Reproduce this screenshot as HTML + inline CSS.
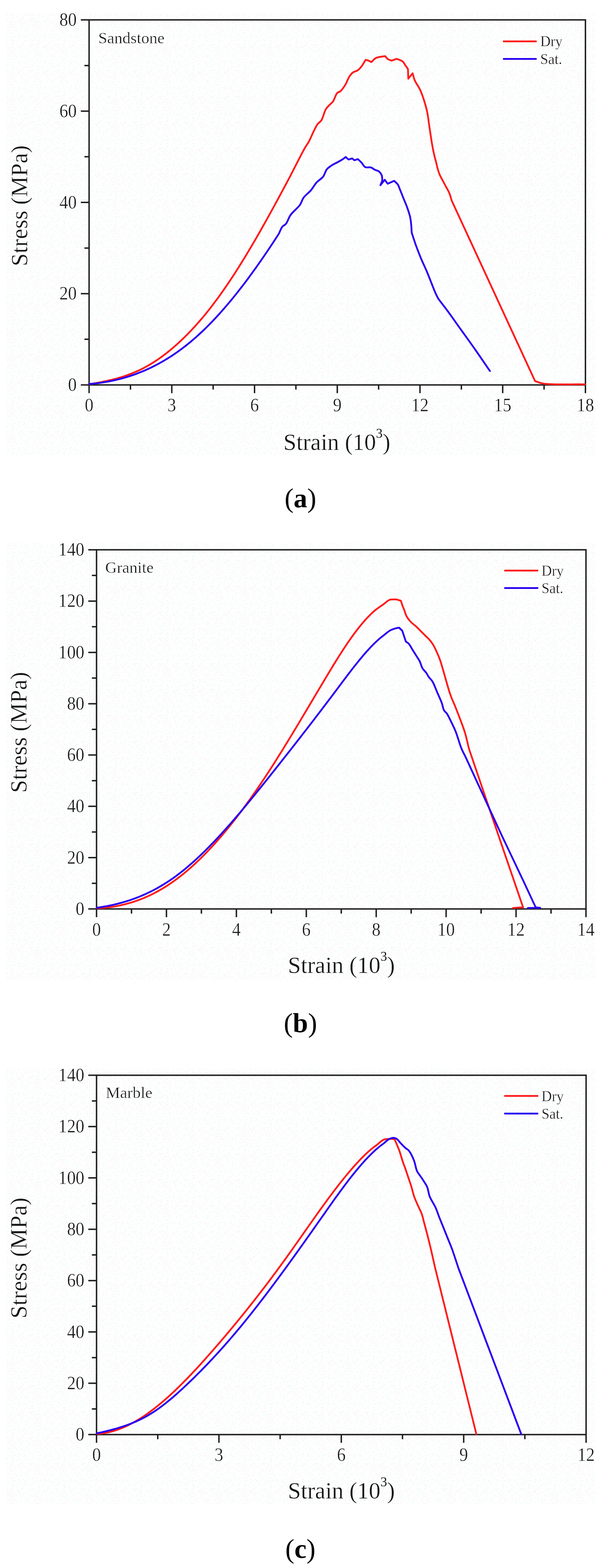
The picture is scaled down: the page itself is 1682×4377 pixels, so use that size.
<!DOCTYPE html>
<html><head><meta charset="utf-8"><title>Stress-strain curves</title>
<style>
html,body{margin:0;padding:0;background:#fff;}
svg{display:block;}
text{font-family:"Liberation Serif", "Times New Roman", serif;fill:#151515;stroke:#fefefe;stroke-width:0.6px;}
text.cap{fill:#000;stroke:none;}
</style></head>
<body>
<svg width="1682" height="4377" viewBox="0 0 1682 4377">
<defs><pattern id="sp" patternUnits="userSpaceOnUse" x="0" y="0" width="72" height="72"><rect width="72" height="72" fill="#fff"/><rect x="0" y="0" width="2" height="2" fill="#ecfcff"/><rect x="5" y="0" width="2" height="2" fill="#ffeff9"/><rect x="11" y="0" width="2" height="2" fill="#ecfff5"/><rect x="13" y="0" width="2" height="2" fill="#fff1f4"/><rect x="19" y="0" width="2" height="2" fill="#fff1f4"/><rect x="21" y="0" width="2" height="2" fill="#ffeff9"/><rect x="32" y="0" width="2" height="2" fill="#fff1f4"/><rect x="35" y="0" width="2" height="2" fill="#ecfff5"/><rect x="37" y="0" width="2" height="2" fill="#ecfcff"/><rect x="40" y="0" width="2" height="2" fill="#ecfcff"/><rect x="53" y="0" width="2" height="2" fill="#ecfff5"/><rect x="61" y="0" width="2" height="2" fill="#efefef"/><rect x="11" y="3" width="2" height="2" fill="#ecfcff"/><rect x="16" y="3" width="2" height="2" fill="#fffdf2"/><rect x="27" y="3" width="2" height="2" fill="#ffeff9"/><rect x="29" y="3" width="2" height="2" fill="#fff1f4"/><rect x="32" y="3" width="2" height="2" fill="#f2f2ff"/><rect x="35" y="3" width="2" height="2" fill="#effffb"/><rect x="43" y="3" width="2" height="2" fill="#f2f2ff"/><rect x="56" y="3" width="2" height="2" fill="#ffeff9"/><rect x="67" y="3" width="2" height="2" fill="#fffdf2"/><rect x="5" y="5" width="2" height="2" fill="#fff1f4"/><rect x="24" y="5" width="2" height="2" fill="#fffdf2"/><rect x="27" y="5" width="2" height="2" fill="#ecfff5"/><rect x="37" y="5" width="2" height="2" fill="#fff1f4"/><rect x="51" y="5" width="2" height="2" fill="#fff1f4"/><rect x="61" y="5" width="2" height="2" fill="#ffeff9"/><rect x="64" y="5" width="2" height="2" fill="#ecfff5"/><rect x="69" y="5" width="2" height="2" fill="#ecfcff"/><rect x="0" y="8" width="2" height="2" fill="#efefef"/><rect x="3" y="8" width="2" height="2" fill="#f2f2ff"/><rect x="8" y="8" width="2" height="2" fill="#ecfcff"/><rect x="21" y="8" width="2" height="2" fill="#fff1f4"/><rect x="35" y="8" width="2" height="2" fill="#ecfff5"/><rect x="40" y="8" width="2" height="2" fill="#efefef"/><rect x="43" y="8" width="2" height="2" fill="#ecfcff"/><rect x="53" y="8" width="2" height="2" fill="#ecfff5"/><rect x="59" y="8" width="2" height="2" fill="#fffdf2"/><rect x="69" y="8" width="2" height="2" fill="#effffb"/><rect x="8" y="11" width="2" height="2" fill="#ffeff9"/><rect x="24" y="11" width="2" height="2" fill="#f2f2ff"/><rect x="27" y="11" width="2" height="2" fill="#efefef"/><rect x="32" y="11" width="2" height="2" fill="#ffeff9"/><rect x="37" y="11" width="2" height="2" fill="#f2f2ff"/><rect x="45" y="11" width="2" height="2" fill="#f2f2ff"/><rect x="59" y="11" width="2" height="2" fill="#ecfff5"/><rect x="67" y="11" width="2" height="2" fill="#effffb"/><rect x="0" y="13" width="2" height="2" fill="#efefef"/><rect x="8" y="13" width="2" height="2" fill="#f2f2ff"/><rect x="24" y="13" width="2" height="2" fill="#ecfff5"/><rect x="40" y="13" width="2" height="2" fill="#f2f2ff"/><rect x="45" y="13" width="2" height="2" fill="#ffeff9"/><rect x="59" y="13" width="2" height="2" fill="#f2f2ff"/><rect x="61" y="13" width="2" height="2" fill="#fff1f4"/><rect x="69" y="13" width="2" height="2" fill="#ecfcff"/><rect x="0" y="16" width="2" height="2" fill="#ecfcff"/><rect x="3" y="16" width="2" height="2" fill="#effffb"/><rect x="8" y="16" width="2" height="2" fill="#effffb"/><rect x="19" y="16" width="2" height="2" fill="#efefef"/><rect x="27" y="16" width="2" height="2" fill="#ecfcff"/><rect x="37" y="16" width="2" height="2" fill="#fffdf2"/><rect x="40" y="16" width="2" height="2" fill="#ecfff5"/><rect x="45" y="16" width="2" height="2" fill="#fff1f4"/><rect x="51" y="16" width="2" height="2" fill="#f2f2ff"/><rect x="69" y="16" width="2" height="2" fill="#ecfcff"/><rect x="3" y="19" width="2" height="2" fill="#effffb"/><rect x="13" y="19" width="2" height="2" fill="#ecfcff"/><rect x="24" y="19" width="2" height="2" fill="#effffb"/><rect x="29" y="19" width="2" height="2" fill="#efefef"/><rect x="32" y="19" width="2" height="2" fill="#fffdf2"/><rect x="35" y="19" width="2" height="2" fill="#ffeff9"/><rect x="8" y="21" width="2" height="2" fill="#ecfff5"/><rect x="13" y="21" width="2" height="2" fill="#ffeff9"/><rect x="19" y="21" width="2" height="2" fill="#ecfff5"/><rect x="24" y="21" width="2" height="2" fill="#fffdf2"/><rect x="32" y="21" width="2" height="2" fill="#f2f2ff"/><rect x="35" y="21" width="2" height="2" fill="#ecfcff"/><rect x="40" y="21" width="2" height="2" fill="#ffeff9"/><rect x="53" y="21" width="2" height="2" fill="#fff1f4"/><rect x="67" y="21" width="2" height="2" fill="#f2f2ff"/><rect x="69" y="21" width="2" height="2" fill="#effffb"/><rect x="3" y="24" width="2" height="2" fill="#f2f2ff"/><rect x="8" y="24" width="2" height="2" fill="#ffeff9"/><rect x="11" y="24" width="2" height="2" fill="#ecfff5"/><rect x="16" y="24" width="2" height="2" fill="#fffdf2"/><rect x="19" y="24" width="2" height="2" fill="#ecfcff"/><rect x="21" y="24" width="2" height="2" fill="#ecfcff"/><rect x="45" y="24" width="2" height="2" fill="#fffdf2"/><rect x="48" y="24" width="2" height="2" fill="#ecfcff"/><rect x="53" y="24" width="2" height="2" fill="#efefef"/><rect x="61" y="24" width="2" height="2" fill="#ecfff5"/><rect x="64" y="24" width="2" height="2" fill="#ffeff9"/><rect x="5" y="27" width="2" height="2" fill="#ecfcff"/><rect x="8" y="27" width="2" height="2" fill="#ecfff5"/><rect x="16" y="27" width="2" height="2" fill="#ecfcff"/><rect x="19" y="27" width="2" height="2" fill="#fffdf2"/><rect x="27" y="27" width="2" height="2" fill="#effffb"/><rect x="32" y="27" width="2" height="2" fill="#f2f2ff"/><rect x="40" y="27" width="2" height="2" fill="#efefef"/><rect x="48" y="27" width="2" height="2" fill="#effffb"/><rect x="51" y="27" width="2" height="2" fill="#effffb"/><rect x="53" y="27" width="2" height="2" fill="#fff1f4"/><rect x="67" y="27" width="2" height="2" fill="#ecfff5"/><rect x="16" y="29" width="2" height="2" fill="#ecfcff"/><rect x="19" y="29" width="2" height="2" fill="#fffdf2"/><rect x="24" y="29" width="2" height="2" fill="#fff1f4"/><rect x="32" y="29" width="2" height="2" fill="#ecfff5"/><rect x="37" y="29" width="2" height="2" fill="#ecfcff"/><rect x="40" y="29" width="2" height="2" fill="#effffb"/><rect x="43" y="29" width="2" height="2" fill="#f2f2ff"/><rect x="53" y="29" width="2" height="2" fill="#fffdf2"/><rect x="56" y="29" width="2" height="2" fill="#ecfcff"/><rect x="59" y="29" width="2" height="2" fill="#fff1f4"/><rect x="61" y="29" width="2" height="2" fill="#fffdf2"/><rect x="67" y="29" width="2" height="2" fill="#efefef"/><rect x="69" y="29" width="2" height="2" fill="#ffeff9"/><rect x="0" y="32" width="2" height="2" fill="#efefef"/><rect x="5" y="32" width="2" height="2" fill="#ecfff5"/><rect x="8" y="32" width="2" height="2" fill="#ecfcff"/><rect x="21" y="32" width="2" height="2" fill="#effffb"/><rect x="24" y="32" width="2" height="2" fill="#ecfcff"/><rect x="27" y="32" width="2" height="2" fill="#fff1f4"/><rect x="35" y="32" width="2" height="2" fill="#efefef"/><rect x="51" y="32" width="2" height="2" fill="#efefef"/><rect x="53" y="32" width="2" height="2" fill="#f2f2ff"/><rect x="64" y="32" width="2" height="2" fill="#efefef"/><rect x="3" y="35" width="2" height="2" fill="#ffeff9"/><rect x="16" y="35" width="2" height="2" fill="#effffb"/><rect x="19" y="35" width="2" height="2" fill="#ffeff9"/><rect x="24" y="35" width="2" height="2" fill="#ecfff5"/><rect x="27" y="35" width="2" height="2" fill="#effffb"/><rect x="48" y="35" width="2" height="2" fill="#ecfcff"/><rect x="61" y="35" width="2" height="2" fill="#effffb"/><rect x="64" y="35" width="2" height="2" fill="#fffdf2"/><rect x="69" y="35" width="2" height="2" fill="#ecfff5"/><rect x="3" y="37" width="2" height="2" fill="#fffdf2"/><rect x="11" y="37" width="2" height="2" fill="#ecfff5"/><rect x="13" y="37" width="2" height="2" fill="#ffeff9"/><rect x="19" y="37" width="2" height="2" fill="#effffb"/><rect x="21" y="37" width="2" height="2" fill="#effffb"/><rect x="35" y="37" width="2" height="2" fill="#ffeff9"/><rect x="37" y="37" width="2" height="2" fill="#fffdf2"/><rect x="43" y="37" width="2" height="2" fill="#fffdf2"/><rect x="51" y="37" width="2" height="2" fill="#effffb"/><rect x="56" y="37" width="2" height="2" fill="#effffb"/><rect x="0" y="40" width="2" height="2" fill="#f2f2ff"/><rect x="3" y="40" width="2" height="2" fill="#f2f2ff"/><rect x="8" y="40" width="2" height="2" fill="#ecfff5"/><rect x="16" y="40" width="2" height="2" fill="#f2f2ff"/><rect x="19" y="40" width="2" height="2" fill="#fff1f4"/><rect x="32" y="40" width="2" height="2" fill="#efefef"/><rect x="35" y="40" width="2" height="2" fill="#efefef"/><rect x="40" y="40" width="2" height="2" fill="#ecfcff"/><rect x="43" y="40" width="2" height="2" fill="#fffdf2"/><rect x="48" y="40" width="2" height="2" fill="#f2f2ff"/><rect x="56" y="40" width="2" height="2" fill="#fff1f4"/><rect x="69" y="40" width="2" height="2" fill="#fff1f4"/><rect x="8" y="43" width="2" height="2" fill="#efefef"/><rect x="16" y="43" width="2" height="2" fill="#fff1f4"/><rect x="21" y="43" width="2" height="2" fill="#fffdf2"/><rect x="27" y="43" width="2" height="2" fill="#effffb"/><rect x="35" y="43" width="2" height="2" fill="#ecfcff"/><rect x="37" y="43" width="2" height="2" fill="#effffb"/><rect x="56" y="43" width="2" height="2" fill="#ecfcff"/><rect x="61" y="43" width="2" height="2" fill="#ecfff5"/><rect x="69" y="43" width="2" height="2" fill="#efefef"/><rect x="16" y="45" width="2" height="2" fill="#fffdf2"/><rect x="35" y="45" width="2" height="2" fill="#ecfff5"/><rect x="45" y="45" width="2" height="2" fill="#efefef"/><rect x="48" y="45" width="2" height="2" fill="#fff1f4"/><rect x="61" y="45" width="2" height="2" fill="#fff1f4"/><rect x="8" y="48" width="2" height="2" fill="#ecfcff"/><rect x="32" y="48" width="2" height="2" fill="#ecfcff"/><rect x="35" y="48" width="2" height="2" fill="#efefef"/><rect x="40" y="48" width="2" height="2" fill="#ecfcff"/><rect x="53" y="48" width="2" height="2" fill="#fffdf2"/><rect x="64" y="48" width="2" height="2" fill="#efefef"/><rect x="67" y="48" width="2" height="2" fill="#fffdf2"/><rect x="0" y="51" width="2" height="2" fill="#f2f2ff"/><rect x="11" y="51" width="2" height="2" fill="#ecfff5"/><rect x="13" y="51" width="2" height="2" fill="#fff1f4"/><rect x="19" y="51" width="2" height="2" fill="#efefef"/><rect x="21" y="51" width="2" height="2" fill="#fff1f4"/><rect x="24" y="51" width="2" height="2" fill="#ecfff5"/><rect x="32" y="51" width="2" height="2" fill="#efefef"/><rect x="45" y="51" width="2" height="2" fill="#fffdf2"/><rect x="53" y="51" width="2" height="2" fill="#ecfff5"/><rect x="56" y="51" width="2" height="2" fill="#ecfff5"/><rect x="59" y="51" width="2" height="2" fill="#ecfff5"/><rect x="61" y="51" width="2" height="2" fill="#fffdf2"/><rect x="64" y="51" width="2" height="2" fill="#effffb"/><rect x="5" y="53" width="2" height="2" fill="#ecfcff"/><rect x="11" y="53" width="2" height="2" fill="#efefef"/><rect x="16" y="53" width="2" height="2" fill="#efefef"/><rect x="21" y="53" width="2" height="2" fill="#effffb"/><rect x="37" y="53" width="2" height="2" fill="#ecfcff"/><rect x="48" y="53" width="2" height="2" fill="#fff1f4"/><rect x="59" y="53" width="2" height="2" fill="#ffeff9"/><rect x="61" y="53" width="2" height="2" fill="#f2f2ff"/><rect x="8" y="56" width="2" height="2" fill="#fff1f4"/><rect x="11" y="56" width="2" height="2" fill="#effffb"/><rect x="13" y="56" width="2" height="2" fill="#effffb"/><rect x="16" y="56" width="2" height="2" fill="#f2f2ff"/><rect x="27" y="56" width="2" height="2" fill="#fff1f4"/><rect x="29" y="56" width="2" height="2" fill="#efefef"/><rect x="37" y="56" width="2" height="2" fill="#ecfff5"/><rect x="48" y="56" width="2" height="2" fill="#efefef"/><rect x="51" y="56" width="2" height="2" fill="#f2f2ff"/><rect x="56" y="56" width="2" height="2" fill="#ffeff9"/><rect x="59" y="56" width="2" height="2" fill="#ecfff5"/><rect x="61" y="56" width="2" height="2" fill="#effffb"/><rect x="69" y="56" width="2" height="2" fill="#fff1f4"/><rect x="3" y="59" width="2" height="2" fill="#effffb"/><rect x="5" y="59" width="2" height="2" fill="#fffdf2"/><rect x="16" y="59" width="2" height="2" fill="#f2f2ff"/><rect x="32" y="59" width="2" height="2" fill="#fff1f4"/><rect x="35" y="59" width="2" height="2" fill="#efefef"/><rect x="43" y="59" width="2" height="2" fill="#fff1f4"/><rect x="51" y="59" width="2" height="2" fill="#ffeff9"/><rect x="53" y="59" width="2" height="2" fill="#fff1f4"/><rect x="64" y="59" width="2" height="2" fill="#fff1f4"/><rect x="0" y="61" width="2" height="2" fill="#ffeff9"/><rect x="5" y="61" width="2" height="2" fill="#fffdf2"/><rect x="16" y="61" width="2" height="2" fill="#ecfff5"/><rect x="19" y="61" width="2" height="2" fill="#ecfff5"/><rect x="21" y="61" width="2" height="2" fill="#ecfff5"/><rect x="24" y="61" width="2" height="2" fill="#fff1f4"/><rect x="27" y="61" width="2" height="2" fill="#ecfff5"/><rect x="32" y="61" width="2" height="2" fill="#ffeff9"/><rect x="40" y="61" width="2" height="2" fill="#effffb"/><rect x="45" y="61" width="2" height="2" fill="#effffb"/><rect x="51" y="61" width="2" height="2" fill="#fffdf2"/><rect x="53" y="61" width="2" height="2" fill="#efefef"/><rect x="56" y="61" width="2" height="2" fill="#ecfff5"/><rect x="69" y="61" width="2" height="2" fill="#efefef"/><rect x="0" y="64" width="2" height="2" fill="#f2f2ff"/><rect x="3" y="64" width="2" height="2" fill="#f2f2ff"/><rect x="8" y="64" width="2" height="2" fill="#fffdf2"/><rect x="11" y="64" width="2" height="2" fill="#ecfff5"/><rect x="27" y="64" width="2" height="2" fill="#efefef"/><rect x="35" y="64" width="2" height="2" fill="#ffeff9"/><rect x="43" y="64" width="2" height="2" fill="#ffeff9"/><rect x="51" y="64" width="2" height="2" fill="#fffdf2"/><rect x="59" y="64" width="2" height="2" fill="#f2f2ff"/><rect x="64" y="64" width="2" height="2" fill="#f2f2ff"/><rect x="8" y="67" width="2" height="2" fill="#ffeff9"/><rect x="21" y="67" width="2" height="2" fill="#efefef"/><rect x="24" y="67" width="2" height="2" fill="#ecfcff"/><rect x="32" y="67" width="2" height="2" fill="#f2f2ff"/><rect x="37" y="67" width="2" height="2" fill="#f2f2ff"/><rect x="40" y="67" width="2" height="2" fill="#ecfcff"/><rect x="45" y="67" width="2" height="2" fill="#effffb"/><rect x="56" y="67" width="2" height="2" fill="#efefef"/><rect x="64" y="67" width="2" height="2" fill="#fff1f4"/><rect x="67" y="67" width="2" height="2" fill="#ecfcff"/><rect x="8" y="69" width="2" height="2" fill="#effffb"/><rect x="11" y="69" width="2" height="2" fill="#ecfff5"/><rect x="13" y="69" width="2" height="2" fill="#ecfcff"/><rect x="19" y="69" width="2" height="2" fill="#ecfff5"/><rect x="27" y="69" width="2" height="2" fill="#efefef"/><rect x="32" y="69" width="2" height="2" fill="#fff1f4"/><rect x="43" y="69" width="2" height="2" fill="#fff1f4"/><rect x="45" y="69" width="2" height="2" fill="#ecfff5"/><rect x="59" y="69" width="2" height="2" fill="#effffb"/></pattern></defs>
<rect x="17" y="36" width="1643" height="1236" fill="url(#sp)"/>
<rect x="248.5" y="55.5" width="1384.5" height="1019.0" fill="none" stroke="#1e1e1e" stroke-width="4"/>
<text transform="translate(248.5,1148.0) scale(0.93,1)" text-anchor="middle" style="font-size:52px">0</text>
<text transform="translate(479.2,1148.0) scale(0.93,1)" text-anchor="middle" style="font-size:52px">3</text>
<text transform="translate(710.0,1148.0) scale(0.93,1)" text-anchor="middle" style="font-size:52px">6</text>
<text transform="translate(940.8,1148.0) scale(0.93,1)" text-anchor="middle" style="font-size:52px">9</text>
<text transform="translate(1171.5,1148.0) scale(0.93,1)" text-anchor="middle" style="font-size:52px">12</text>
<text transform="translate(1402.2,1148.0) scale(0.93,1)" text-anchor="middle" style="font-size:52px">15</text>
<text transform="translate(1633.0,1148.0) scale(0.93,1)" text-anchor="middle" style="font-size:52px">18</text>
<text transform="translate(214.0,1091.0) scale(0.93,1)" text-anchor="end" style="font-size:52px">0</text>
<text transform="translate(214.0,836.2) scale(0.93,1)" text-anchor="end" style="font-size:52px">20</text>
<text transform="translate(214.0,581.5) scale(0.93,1)" text-anchor="end" style="font-size:52px">40</text>
<text transform="translate(214.0,326.8) scale(0.93,1)" text-anchor="end" style="font-size:52px">60</text>
<text transform="translate(214.0,72.0) scale(0.93,1)" text-anchor="end" style="font-size:52px">80</text>
<path d="M248.5,1074.5v23M363.9,1074.5v13M479.2,1074.5v23M594.6,1074.5v13M710.0,1074.5v23M825.4,1074.5v13M940.8,1074.5v23M1056.1,1074.5v13M1171.5,1074.5v23M1286.9,1074.5v13M1402.2,1074.5v23M1517.6,1074.5v13M1633.0,1074.5v23M248.5,1074.5h-23M248.5,947.1h-13M248.5,819.8h-23M248.5,692.4h-13M248.5,565.0h-23M248.5,437.6h-13M248.5,310.2h-23M248.5,182.9h-13M248.5,55.5h-23" stroke="#1e1e1e" stroke-width="4" fill="none"/>
<path d="M248.5,1072.5C251.2,1072.0 253.8,1071.6 256.5,1071.2C259.2,1070.7 261.8,1070.3 264.5,1069.8C267.2,1069.3 269.8,1068.9 272.5,1068.4C275.2,1067.9 277.8,1067.4 280.5,1066.9C283.2,1066.4 285.8,1065.8 288.5,1065.3C291.2,1064.8 293.8,1064.2 296.5,1063.6C299.2,1063.0 301.8,1062.4 304.5,1061.8C307.2,1061.2 309.8,1060.6 312.5,1059.9C315.2,1059.3 317.8,1058.6 320.5,1057.9C323.2,1057.2 325.8,1056.4 328.5,1055.7C331.2,1054.9 333.8,1054.1 336.5,1053.3C339.2,1052.5 341.8,1051.7 344.5,1050.8C347.2,1050.0 349.8,1049.1 352.5,1048.1C355.2,1047.2 357.8,1046.2 360.5,1045.2C363.2,1044.2 365.8,1043.2 368.5,1042.1C371.2,1041.1 373.8,1040.0 376.5,1038.8C379.2,1037.7 381.8,1036.5 384.5,1035.3C387.2,1034.0 389.8,1032.8 392.5,1031.5C395.2,1030.2 397.8,1028.8 400.5,1027.4C403.2,1026.1 405.8,1024.6 408.5,1023.1C411.2,1021.7 413.8,1020.1 416.5,1018.6C419.2,1017.0 421.8,1015.4 424.5,1013.7C427.2,1012.1 429.8,1010.4 432.5,1008.6C435.2,1006.9 437.8,1005.1 440.5,1003.3C443.2,1001.4 445.8,999.6 448.5,997.7C451.2,995.7 453.8,993.8 456.5,991.8C459.2,989.8 461.8,987.7 464.5,985.6C467.2,983.5 469.8,981.4 472.5,979.2C475.2,977.0 477.8,974.8 480.5,972.6C483.2,970.3 485.8,968.0 488.5,965.7C491.2,963.3 493.8,960.9 496.5,958.5C499.2,956.0 501.8,953.6 504.5,951.1C507.2,948.5 509.8,946.0 512.5,943.4C515.2,940.8 517.8,938.1 520.5,935.5C523.2,932.8 525.8,930.0 528.5,927.3C531.2,924.5 533.8,921.7 536.5,918.9C539.2,916.0 541.8,913.1 544.5,910.2C547.2,907.2 549.8,904.2 552.5,901.2C555.2,898.2 557.8,895.1 560.5,892.0C563.2,888.8 565.8,885.7 568.5,882.5C571.2,879.3 573.8,876.0 576.5,872.7C579.2,869.4 581.8,866.1 584.5,862.7C587.2,859.3 589.8,855.8 592.5,852.4C595.2,848.9 597.8,845.3 600.5,841.8C603.2,838.2 605.8,834.6 608.5,830.9C611.2,827.2 613.8,823.5 616.5,819.8C619.2,816.0 621.8,812.2 624.5,808.4C627.2,804.6 629.8,800.7 632.5,796.8C635.2,792.8 637.8,788.9 640.5,784.9C643.2,780.9 645.8,776.9 648.5,772.8C651.2,768.7 653.8,764.6 656.5,760.5C659.2,756.3 661.8,752.1 664.5,747.9C667.2,743.7 669.8,739.4 672.5,735.1C675.2,730.8 677.8,726.5 680.5,722.2C683.2,717.8 685.8,713.4 688.5,709.0C691.2,704.6 693.8,700.1 696.5,695.6C699.2,691.1 701.8,686.6 704.5,682.1C707.2,677.5 709.8,673.0 712.5,668.4C715.2,663.8 717.8,659.1 720.5,654.5C723.2,649.8 725.8,645.1 728.5,640.4C731.2,635.7 733.8,631.0 736.5,626.3C739.2,621.5 741.8,616.7 744.5,611.9C747.2,607.1 749.8,602.3 752.5,597.5C755.2,592.7 757.8,587.8 760.5,582.9C763.2,578.1 765.8,573.2 768.5,568.3C771.2,563.4 773.8,558.4 776.5,553.5C779.2,548.6 781.8,543.6 784.5,538.6C787.2,533.7 789.8,528.7 792.5,523.7C795.2,518.7 797.8,513.7 800.5,508.7C803.2,503.7 806.8,496.9 808.5,493.7C809.4,492.0 809.4,492.0 810.4,490.1C815.2,480.9 841.3,429.0 850.8,412.3C855.5,404.1 858.4,401.1 862.0,394.5C866.2,386.7 869.9,376.6 874.1,368.3C878.0,360.5 882.0,351.8 886.3,346.1C889.5,341.8 893.3,340.7 896.4,336.0C901.1,328.9 904.0,313.3 908.5,305.7C911.6,300.4 915.1,297.3 918.6,293.5C921.9,289.9 925.5,287.8 928.7,283.4C933.1,277.3 936.4,263.6 940.8,259.2C943.4,256.6 946.1,257.5 948.9,255.2C953.4,251.6 958.8,243.7 963.0,237.0C967.6,229.7 970.9,219.0 975.2,212.7C978.4,208.0 981.4,204.3 985.3,201.6C988.9,199.1 993.8,199.0 997.4,196.6C1001.2,194.1 1004.2,190.6 1007.5,186.5C1011.7,181.3 1015.6,173.7 1019.6,167.3C1021.6,167.6 1023.5,167.6 1025.7,168.3C1028.7,169.3 1032.4,171.6 1035.8,173.3C1039.8,169.6 1043.8,164.5 1047.9,162.2C1051.2,160.3 1054.3,160.1 1058.1,159.2C1062.8,158.1 1068.8,157.5 1074.2,156.6C1076.9,159.5 1079.2,163.2 1082.3,165.3C1085.3,167.3 1089.0,168.0 1092.4,169.3L1106.6,164.2C1112.0,166.6 1118.6,168.0 1122.7,171.3C1126.4,174.2 1128.2,178.8 1130.8,182.4C1133.3,185.8 1135.5,189.1 1137.9,192.5L1138.9,219.8L1151.0,204.6C1153.0,211.3 1154.1,217.9 1157.1,224.8C1160.5,232.7 1167.2,240.7 1171.2,249.1C1175.2,257.5 1178.1,265.8 1181.3,275.4C1184.9,286.4 1188.7,299.2 1191.4,311.7C1194.2,324.7 1195.3,337.8 1197.5,352.1C1200.0,368.4 1203.0,390.1 1205.5,404.2C1207.2,413.8 1208.5,420.4 1210.3,428.5C1212.1,436.6 1214.5,445.1 1216.4,452.7C1218.1,459.5 1219.5,466.1 1221.2,472.1C1222.7,477.3 1224.1,481.9 1226.1,486.7C1228.1,491.6 1230.7,496.1 1233.3,501.2C1236.3,506.9 1239.8,513.3 1243.0,519.4C1246.2,525.5 1249.9,531.1 1252.7,537.6C1255.7,544.6 1257.6,552.5 1260.0,560.0L1492.5,1063.8C1500.6,1066.2 1505.5,1069.2 1516.8,1070.9C1540.8,1074.6 1593.6,1072.3 1632.0,1073.0" fill="none" stroke="#ff1c1c" stroke-width="5" stroke-linejoin="round" stroke-linecap="round"/>
<path d="M248.5,1072.0C251.2,1071.7 253.8,1071.5 256.5,1071.3C259.2,1071.0 261.8,1070.8 264.5,1070.5C267.2,1070.2 269.8,1069.9 272.5,1069.5C275.2,1069.2 277.8,1068.9 280.5,1068.5C283.2,1068.1 285.8,1067.7 288.5,1067.3C291.2,1066.9 293.8,1066.5 296.5,1066.0C299.2,1065.5 301.8,1065.0 304.5,1064.5C307.2,1064.0 309.8,1063.5 312.5,1063.0C315.2,1062.4 317.8,1061.8 320.5,1061.2C323.2,1060.6 325.8,1060.0 328.5,1059.4C331.2,1058.7 333.8,1058.0 336.5,1057.3C339.2,1056.6 341.8,1055.9 344.5,1055.2C347.2,1054.4 349.8,1053.6 352.5,1052.8C355.2,1052.0 357.8,1051.2 360.5,1050.4C363.2,1049.5 365.8,1048.6 368.5,1047.7C371.2,1046.8 373.8,1045.9 376.5,1044.9C379.2,1043.9 381.8,1043.0 384.5,1041.9C387.2,1040.9 389.8,1039.9 392.5,1038.8C395.2,1037.7 397.8,1036.6 400.5,1035.5C403.2,1034.4 405.8,1033.2 408.5,1032.0C411.2,1030.8 413.8,1029.6 416.5,1028.3C419.2,1027.1 421.8,1025.8 424.5,1024.5C427.2,1023.2 429.8,1021.9 432.5,1020.5C435.2,1019.1 437.8,1017.7 440.5,1016.3C443.2,1014.8 445.8,1013.4 448.5,1011.9C451.2,1010.4 453.8,1008.8 456.5,1007.3C459.2,1005.7 461.8,1004.1 464.5,1002.5C467.2,1000.9 469.8,999.2 472.5,997.5C475.2,995.8 477.8,994.1 480.5,992.3C483.2,990.5 485.8,988.7 488.5,986.9C491.2,985.1 493.8,983.2 496.5,981.3C499.2,979.4 501.8,977.5 504.5,975.5C507.2,973.5 509.8,971.5 512.5,969.5C515.2,967.4 517.8,965.4 520.5,963.2C523.2,961.1 525.8,959.0 528.5,956.8C531.2,954.6 533.8,952.4 536.5,950.1C539.2,947.8 541.8,945.5 544.5,943.2C547.2,940.8 549.8,938.5 552.5,936.0C555.2,933.6 557.8,931.2 560.5,928.7C563.2,926.2 565.8,923.6 568.5,921.1C571.2,918.5 573.8,915.9 576.5,913.3C579.2,910.6 581.8,907.9 584.5,905.2C587.2,902.5 589.8,899.7 592.5,897.0C595.2,894.2 597.8,891.3 600.5,888.5C603.2,885.6 605.8,882.7 608.5,879.8C611.2,876.9 613.8,873.9 616.5,870.9C619.2,867.9 621.8,864.9 624.5,861.8C627.2,858.8 629.8,855.7 632.5,852.5C635.2,849.4 637.8,846.2 640.5,843.0C643.2,839.8 645.8,836.6 648.5,833.3C651.2,830.1 653.8,826.8 656.5,823.5C659.2,820.1 661.8,816.8 664.5,813.4C667.2,810.0 669.8,806.6 672.5,803.1C675.2,799.7 677.8,796.2 680.5,792.7C683.2,789.2 685.8,785.6 688.5,782.1C691.2,778.5 693.8,774.9 696.5,771.3C699.2,767.7 701.8,764.0 704.5,760.3C707.2,756.6 709.8,752.9 712.5,749.2C715.2,745.5 717.8,741.7 720.5,737.9C723.2,734.1 725.8,730.3 728.5,726.4C731.2,722.6 733.8,718.7 736.5,714.8C739.2,710.9 741.8,707.0 744.5,703.1C747.2,699.1 749.8,695.1 752.5,691.1C755.2,687.1 757.8,683.1 760.5,679.1C763.2,675.0 765.8,670.9 768.5,666.8C771.2,662.7 775.1,656.7 776.5,654.5C777.0,653.6 777.1,653.7 777.6,652.8C779.3,649.8 783.7,637.6 787.7,632.7C790.7,629.0 794.6,628.5 797.8,624.6C802.4,619.0 804.7,608.3 810.4,600.2C817.1,590.7 830.4,581.0 836.7,571.9C841.5,565.0 842.2,558.1 846.8,551.7C852.0,544.5 860.9,538.6 867.0,531.5C873.0,524.5 877.2,515.8 883.1,509.3C888.7,503.1 896.5,499.3 901.3,493.1C905.9,487.1 907.2,478.2 911.4,472.9C914.9,468.5 918.9,466.0 923.5,462.8C928.8,459.2 936.0,455.9 941.7,452.7C946.7,449.9 951.9,447.3 955.9,444.6C959.1,442.5 961.4,440.3 964.1,438.2L972.2,445.3L982.3,442.2L988.4,447.3L998.5,444.2C1001.9,447.6 1005.3,450.7 1008.6,454.3C1012.1,458.1 1014.4,464.3 1018.7,466.5C1023.1,468.7 1030.2,466.1 1034.8,467.5C1038.7,468.7 1041.3,471.7 1044.9,473.5C1048.7,475.4 1053.8,475.9 1057.1,478.6C1060.6,481.5 1063.7,486.3 1065.2,490.7C1066.7,495.0 1065.9,500.1 1066.2,504.8L1061.1,517.0L1073.2,501.8L1081.3,512.9L1099.5,504.8C1102.9,508.2 1106.9,511.0 1109.6,514.9C1112.4,519.0 1113.4,523.5 1115.7,529.1C1119.1,537.3 1124.1,550.2 1127.8,559.4C1130.9,567.0 1133.6,572.9 1136.2,580.4C1139.1,588.6 1142.3,598.0 1144.2,606.7C1146.0,614.9 1146.6,623.4 1147.3,630.9C1147.9,637.4 1148.0,643.0 1148.3,649.1C1152.3,661.2 1156.1,673.4 1160.4,685.5C1164.8,697.7 1169.5,709.8 1174.5,721.8C1179.6,734.0 1185.7,746.4 1190.7,758.2C1195.3,769.1 1199.3,779.7 1203.4,790.0C1207.3,799.8 1211.4,810.8 1215.0,818.8C1217.7,824.8 1220.1,829.0 1222.6,834.1C1230.9,845.0 1238.5,854.5 1247.6,866.8C1259.1,882.4 1273.2,902.6 1286.0,920.5C1298.8,938.4 1311.4,955.7 1324.4,974.3C1338.2,994.0 1352.5,1015.2 1366.6,1035.7" fill="none" stroke="#2a00f2" stroke-width="5" stroke-linejoin="round" stroke-linecap="round"/>
<text x="274" y="120.5" style="font-size:45px">Sandstone</text>
<path d="M1403,115.5H1497" stroke="#ff1c1c" stroke-width="5"/>
<path d="M1403,164.5H1497" stroke="#2a00f2" stroke-width="5"/>
<text transform="translate(1507,129) scale(0.95,1)" style="font-size:42px">Dry</text>
<text transform="translate(1507,179) scale(0.95,1)" style="font-size:42px">Sat.</text>
<text transform="translate(76,574.4) rotate(-90)" text-anchor="middle" style="font-size:65px">Stress (MPa)</text>
<text x="790.5" y="1256.3" style="font-size:65px">Strain (10<tspan style="font-size:37px;stroke:none" dy="-34">3</tspan><tspan dy="34">)</tspan></text>
<text class="cap" x="838" y="1416" text-anchor="middle" style="font-size:76px">(<tspan font-weight="bold">a</tspan>)</text>
<rect x="17" y="1516" width="1643" height="1218" fill="url(#sp)"/>
<rect x="269.3" y="1534.7" width="1365.2" height="1002.6000000000001" fill="none" stroke="#1e1e1e" stroke-width="4"/>
<text transform="translate(269.3,2611.5) scale(0.93,1)" text-anchor="middle" style="font-size:52px">0</text>
<text transform="translate(464.3,2611.5) scale(0.93,1)" text-anchor="middle" style="font-size:52px">2</text>
<text transform="translate(659.4,2611.5) scale(0.93,1)" text-anchor="middle" style="font-size:52px">4</text>
<text transform="translate(854.4,2611.5) scale(0.93,1)" text-anchor="middle" style="font-size:52px">6</text>
<text transform="translate(1049.4,2611.5) scale(0.93,1)" text-anchor="middle" style="font-size:52px">8</text>
<text transform="translate(1244.4,2611.5) scale(0.93,1)" text-anchor="middle" style="font-size:52px">10</text>
<text transform="translate(1439.5,2611.5) scale(0.93,1)" text-anchor="middle" style="font-size:52px">12</text>
<text transform="translate(1634.5,2611.5) scale(0.93,1)" text-anchor="middle" style="font-size:52px">14</text>
<text transform="translate(235.3,2553.8) scale(0.93,1)" text-anchor="end" style="font-size:52px">0</text>
<text transform="translate(235.3,2410.6) scale(0.93,1)" text-anchor="end" style="font-size:52px">20</text>
<text transform="translate(235.3,2267.3) scale(0.93,1)" text-anchor="end" style="font-size:52px">40</text>
<text transform="translate(235.3,2124.1) scale(0.93,1)" text-anchor="end" style="font-size:52px">60</text>
<text transform="translate(235.3,1980.9) scale(0.93,1)" text-anchor="end" style="font-size:52px">80</text>
<text transform="translate(235.3,1837.7) scale(0.93,1)" text-anchor="end" style="font-size:52px">100</text>
<text transform="translate(235.3,1694.4) scale(0.93,1)" text-anchor="end" style="font-size:52px">120</text>
<text transform="translate(235.3,1551.2) scale(0.93,1)" text-anchor="end" style="font-size:52px">140</text>
<path d="M269.3,2537.3v23M366.8,2537.3v13M464.3,2537.3v23M561.8,2537.3v13M659.4,2537.3v23M756.9,2537.3v13M854.4,2537.3v23M951.9,2537.3v13M1049.4,2537.3v23M1146.9,2537.3v13M1244.4,2537.3v23M1342.0,2537.3v13M1439.5,2537.3v23M1537.0,2537.3v13M1634.5,2537.3v23M269.3,2537.3h-23M269.3,2465.7h-13M269.3,2394.1h-23M269.3,2322.5h-13M269.3,2250.8h-23M269.3,2179.2h-13M269.3,2107.6h-23M269.3,2036.0h-13M269.3,1964.4h-23M269.3,1892.8h-13M269.3,1821.2h-23M269.3,1749.5h-13M269.3,1677.9h-23M269.3,1606.3h-13M269.3,1534.7h-23" stroke="#1e1e1e" stroke-width="4" fill="none"/>
<path d="M270.1,2535.2C272.8,2535.1 275.4,2535.0 278.1,2534.8C280.8,2534.7 283.4,2534.5 286.1,2534.3C288.8,2534.1 291.4,2533.9 294.1,2533.7C296.8,2533.4 299.4,2533.1 302.1,2532.8C304.8,2532.5 307.4,2532.1 310.1,2531.8C312.8,2531.4 315.4,2531.0 318.1,2530.6C320.8,2530.1 323.4,2529.7 326.1,2529.2C328.8,2528.7 331.4,2528.1 334.1,2527.6C336.8,2527.0 339.4,2526.4 342.1,2525.8C344.8,2525.2 347.4,2524.6 350.1,2523.9C352.8,2523.2 355.4,2522.5 358.1,2521.7C360.8,2521.0 363.4,2520.2 366.1,2519.4C368.8,2518.6 371.4,2517.7 374.1,2516.8C376.8,2516.0 379.4,2515.0 382.1,2514.1C384.8,2513.1 387.4,2512.2 390.1,2511.2C392.8,2510.1 395.4,2509.1 398.1,2508.0C400.8,2506.9 403.4,2505.8 406.1,2504.6C408.8,2503.5 411.4,2502.3 414.1,2501.1C416.8,2499.8 419.4,2498.6 422.1,2497.3C424.8,2496.0 427.4,2494.6 430.1,2493.2C432.8,2491.9 435.4,2490.5 438.1,2489.0C440.8,2487.6 443.4,2486.1 446.1,2484.6C448.8,2483.0 451.4,2481.5 454.1,2479.9C456.8,2478.3 459.4,2476.6 462.1,2475.0C464.8,2473.3 467.4,2471.6 470.1,2469.8C472.8,2468.0 475.4,2466.3 478.1,2464.4C480.8,2462.6 483.4,2460.7 486.1,2458.8C488.8,2456.9 491.4,2454.9 494.1,2452.9C496.8,2450.9 499.4,2448.9 502.1,2446.8C504.8,2444.8 507.4,2442.7 510.1,2440.5C512.8,2438.4 515.4,2436.2 518.1,2433.9C520.8,2431.7 523.4,2429.4 526.1,2427.1C528.8,2424.8 531.4,2422.5 534.1,2420.1C536.8,2417.7 539.4,2415.3 542.1,2412.9C544.8,2410.4 547.4,2407.9 550.1,2405.4C552.8,2402.9 555.4,2400.3 558.1,2397.7C560.8,2395.1 563.4,2392.5 566.1,2389.8C568.8,2387.1 571.4,2384.4 574.1,2381.7C576.8,2378.9 579.4,2376.1 582.1,2373.3C584.8,2370.5 587.4,2367.6 590.1,2364.8C592.8,2361.9 595.4,2359.0 598.1,2356.0C600.8,2353.0 603.4,2350.1 606.1,2347.0C608.8,2344.0 611.4,2341.0 614.1,2337.9C616.8,2334.8 619.4,2331.7 622.1,2328.5C624.8,2325.3 627.4,2322.2 630.1,2318.9C632.8,2315.7 635.4,2312.5 638.1,2309.2C640.8,2305.9 643.4,2302.6 646.1,2299.2C648.8,2295.9 651.4,2292.5 654.1,2289.1C656.8,2285.6 659.4,2282.2 662.1,2278.7C664.8,2275.2 667.4,2271.7 670.1,2268.2C672.8,2264.7 675.4,2261.1 678.1,2257.5C680.8,2253.9 683.4,2250.3 686.1,2246.6C688.8,2242.9 691.4,2239.3 694.1,2235.5C696.8,2231.8 699.4,2228.1 702.1,2224.3C704.8,2220.5 707.4,2216.7 710.1,2212.9C712.8,2209.0 715.4,2205.2 718.1,2201.3C720.8,2197.4 723.4,2193.5 726.1,2189.5C728.8,2185.6 731.4,2181.6 734.1,2177.6C736.8,2173.6 739.4,2169.6 742.1,2165.5C744.8,2161.5 747.4,2157.4 750.1,2153.3C752.8,2149.2 755.4,2145.0 758.1,2140.9C760.8,2136.7 763.4,2132.5 766.1,2128.3C768.8,2124.1 771.4,2119.9 774.1,2115.7C776.8,2111.4 779.4,2107.1 782.1,2102.9C784.8,2098.6 787.4,2094.3 790.1,2090.0C792.8,2085.6 795.4,2081.3 798.1,2076.9C800.8,2072.6 803.4,2068.2 806.1,2063.8C808.8,2059.5 811.4,2055.1 814.1,2050.7C816.8,2046.3 819.4,2041.8 822.1,2037.4C824.8,2033.0 827.4,2028.5 830.1,2024.1C832.8,2019.7 835.4,2015.2 838.1,2010.7C840.8,2006.3 843.4,2001.8 846.1,1997.3C848.8,1992.8 851.4,1988.4 854.1,1983.9C856.8,1979.4 859.4,1974.9 862.1,1970.4C864.8,1965.9 867.4,1961.4 870.1,1956.9C872.8,1952.5 875.4,1948.0 878.1,1943.5C880.8,1939.0 883.4,1934.5 886.1,1930.0C888.8,1925.5 891.4,1921.0 894.1,1916.5C896.8,1912.1 899.4,1907.6 902.1,1903.1C904.8,1898.6 907.4,1894.2 910.1,1889.7C912.8,1885.3 915.4,1880.8 918.1,1876.4C920.8,1872.0 923.4,1867.6 926.1,1863.2C928.8,1858.8 931.4,1854.4 934.1,1850.1C936.8,1845.8 939.4,1841.5 942.1,1837.2C944.8,1832.9 947.4,1828.7 950.1,1824.5C952.8,1820.4 955.4,1816.2 958.1,1812.1C960.8,1808.1 963.4,1804.0 966.1,1800.1C968.8,1796.1 971.4,1792.2 974.1,1788.3C976.8,1784.5 979.4,1780.7 982.1,1777.0C984.8,1773.3 987.4,1769.6 990.1,1766.1C992.7,1762.5 995.4,1759.0 998.1,1755.6C1000.7,1752.2 1003.4,1748.9 1006.1,1745.6C1008.7,1742.4 1011.4,1739.2 1014.1,1736.1C1016.7,1733.0 1019.4,1730.0 1022.1,1727.1C1024.7,1724.2 1027.4,1721.4 1030.1,1718.7C1032.7,1716.0 1035.5,1713.4 1038.1,1710.9C1040.6,1708.5 1042.2,1706.9 1045.5,1704.2C1051.2,1699.6 1062.3,1692.0 1069.7,1686.7C1075.9,1682.3 1080.5,1676.7 1086.7,1674.5C1092.7,1672.4 1099.6,1673.7 1106.1,1673.3L1118.2,1677.0C1119.8,1681.8 1121.3,1686.9 1123.0,1691.5C1124.6,1695.7 1126.2,1699.2 1127.9,1703.6C1129.9,1708.7 1131.2,1714.9 1134.1,1720.2C1137.2,1725.9 1141.8,1731.6 1146.3,1736.4C1150.6,1741.0 1155.8,1744.2 1160.4,1748.5C1165.2,1752.9 1170.0,1758.1 1174.5,1762.6C1178.7,1766.8 1182.7,1770.7 1186.7,1774.7C1190.8,1778.8 1195.1,1782.5 1198.8,1786.9C1202.5,1791.3 1205.9,1796.0 1208.9,1801.0C1212.0,1806.1 1214.3,1811.2 1217.0,1817.2C1220.3,1824.4 1224.1,1833.1 1227.1,1841.4C1230.2,1849.9 1232.6,1858.8 1235.2,1867.7C1237.9,1876.7 1240.0,1884.8 1243.0,1895.0C1246.9,1908.3 1251.7,1926.5 1256.7,1940.5C1261.1,1952.9 1266.2,1963.2 1270.8,1974.8C1275.6,1986.7 1280.5,1999.2 1284.9,2011.2C1289.2,2022.8 1293.4,2033.3 1297.1,2045.6C1301.2,2059.4 1304.4,2075.2 1308.1,2090.0C1335.3,2170.0 1363.6,2253.4 1389.7,2330.0C1413.7,2400.4 1436.0,2465.1 1459.1,2532.7L1431.2,2534.5" fill="none" stroke="#ff1c1c" stroke-width="5" stroke-linejoin="round" stroke-linecap="round"/>
<path d="M270.1,2534.0C272.8,2533.6 275.4,2533.2 278.1,2532.8C280.8,2532.4 283.4,2532.0 286.1,2531.5C288.8,2531.1 291.4,2530.6 294.1,2530.1C296.8,2529.7 299.4,2529.2 302.1,2528.6C304.8,2528.1 307.4,2527.5 310.1,2527.0C312.8,2526.4 315.4,2525.8 318.1,2525.2C320.8,2524.6 323.4,2523.9 326.1,2523.3C328.8,2522.6 331.4,2521.9 334.1,2521.2C336.8,2520.5 339.4,2519.8 342.1,2519.0C344.8,2518.2 347.4,2517.5 350.1,2516.7C352.8,2515.8 355.4,2515.0 358.1,2514.1C360.8,2513.3 363.4,2512.4 366.1,2511.5C368.8,2510.6 371.4,2509.6 374.1,2508.6C376.8,2507.7 379.4,2506.7 382.1,2505.6C384.8,2504.6 387.4,2503.5 390.1,2502.5C392.8,2501.4 395.4,2500.2 398.1,2499.1C400.8,2497.9 403.4,2496.8 406.1,2495.6C408.8,2494.3 411.4,2493.1 414.1,2491.8C416.8,2490.5 419.4,2489.2 422.1,2487.9C424.8,2486.6 427.4,2485.2 430.1,2483.8C432.8,2482.4 435.4,2480.9 438.1,2479.5C440.8,2478.0 443.4,2476.5 446.1,2474.9C448.8,2473.4 451.4,2471.8 454.1,2470.2C456.8,2468.6 459.4,2466.9 462.1,2465.2C464.8,2463.5 467.4,2461.8 470.1,2460.0C472.8,2458.3 475.4,2456.5 478.1,2454.6C480.8,2452.8 483.4,2450.9 486.1,2449.0C488.8,2447.1 491.4,2445.1 494.1,2443.1C496.8,2441.1 499.4,2439.1 502.1,2437.0C504.8,2434.9 507.4,2432.8 510.1,2430.7C512.8,2428.5 515.4,2426.4 518.1,2424.2C520.8,2421.9 523.4,2419.7 526.1,2417.4C528.8,2415.1 531.4,2412.8 534.1,2410.5C536.8,2408.1 539.4,2405.7 542.1,2403.3C544.8,2400.9 547.4,2398.5 550.1,2396.0C552.8,2393.5 555.4,2391.0 558.1,2388.5C560.8,2385.9 563.4,2383.4 566.1,2380.8C568.8,2378.2 571.4,2375.6 574.1,2372.9C576.8,2370.3 579.4,2367.6 582.1,2364.9C584.8,2362.2 587.4,2359.5 590.1,2356.7C592.8,2353.9 595.4,2351.2 598.1,2348.4C600.8,2345.6 603.4,2342.7 606.1,2339.9C608.8,2337.0 611.4,2334.2 614.1,2331.3C616.8,2328.4 619.4,2325.4 622.1,2322.5C624.8,2319.6 627.4,2316.6 630.1,2313.6C632.8,2310.6 635.4,2307.6 638.1,2304.6C640.8,2301.6 643.4,2298.6 646.1,2295.5C648.8,2292.4 651.4,2289.4 654.1,2286.3C656.8,2283.2 659.4,2280.1 662.1,2276.9C664.8,2273.8 667.4,2270.7 670.1,2267.5C672.8,2264.4 675.4,2261.2 678.1,2258.0C680.8,2254.8 683.4,2251.6 686.1,2248.4C688.8,2245.2 691.4,2242.0 694.1,2238.7C696.8,2235.5 699.4,2232.3 702.1,2229.0C704.8,2225.7 707.4,2222.5 710.1,2219.2C712.8,2215.9 715.4,2212.6 718.1,2209.3C720.8,2206.0 723.4,2202.7 726.1,2199.4C728.8,2196.1 731.4,2192.8 734.1,2189.4C736.8,2186.1 739.4,2182.8 742.1,2179.4C744.8,2176.1 747.4,2172.8 750.1,2169.4C752.8,2166.1 755.4,2162.7 758.1,2159.3C760.8,2156.0 763.4,2152.6 766.1,2149.3C768.8,2145.9 771.4,2142.5 774.1,2139.2C776.8,2135.8 779.4,2132.4 782.1,2129.0C784.8,2125.7 787.4,2122.3 790.1,2118.9C792.8,2115.5 795.4,2112.1 798.1,2108.7C800.8,2105.3 803.4,2102.0 806.1,2098.6C808.8,2095.2 811.4,2091.8 814.1,2088.3C816.8,2084.9 819.4,2081.5 822.1,2078.1C824.8,2074.7 827.4,2071.3 830.1,2067.9C832.8,2064.4 835.4,2061.0 838.1,2057.6C840.8,2054.1 843.4,2050.7 846.1,2047.3C848.8,2043.8 851.4,2040.4 854.1,2036.9C856.8,2033.5 859.4,2030.0 862.1,2026.6C864.8,2023.1 867.4,2019.6 870.1,2016.2C872.8,2012.7 875.4,2009.2 878.1,2005.7C880.8,2002.3 883.4,1998.8 886.1,1995.3C888.8,1991.8 891.4,1988.3 894.1,1984.8C896.8,1981.3 899.4,1977.8 902.1,1974.3C904.8,1970.8 907.4,1967.3 910.1,1963.7C912.8,1960.2 915.4,1956.7 918.1,1953.1C920.8,1949.6 923.4,1946.1 926.1,1942.5C928.8,1939.0 931.4,1935.4 934.1,1931.9C936.8,1928.3 939.4,1924.7 942.1,1921.2C944.8,1917.6 947.4,1914.0 950.1,1910.5C952.8,1906.9 955.4,1903.3 958.1,1899.8C960.8,1896.2 963.4,1892.7 966.1,1889.2C968.8,1885.6 971.4,1882.1 974.1,1878.6C976.8,1875.2 979.4,1871.7 982.1,1868.3C984.8,1864.8 987.4,1861.4 990.1,1858.0C992.8,1854.7 995.4,1851.3 998.1,1848.0C1000.8,1844.7 1003.4,1841.4 1006.1,1838.2C1008.8,1835.0 1011.4,1831.8 1014.1,1828.7C1016.8,1825.6 1019.4,1822.5 1022.1,1819.5C1024.8,1816.5 1027.4,1813.6 1030.1,1810.7C1032.7,1807.8 1035.4,1805.0 1038.1,1802.3C1040.7,1799.6 1043.4,1796.9 1046.1,1794.3C1048.7,1791.7 1051.4,1789.2 1054.1,1786.8C1056.7,1784.5 1059.4,1782.1 1062.1,1779.9C1064.6,1777.8 1066.6,1776.3 1069.7,1773.9C1074.7,1770.0 1082.6,1762.9 1089.1,1759.4C1094.7,1756.4 1101.6,1754.5 1106.1,1753.3C1109.0,1752.6 1110.9,1752.5 1113.3,1752.1L1122.0,1760.6L1132.1,1790.9C1134.8,1792.9 1137.6,1794.2 1140.2,1797.0C1143.8,1800.9 1146.9,1807.7 1150.3,1813.1C1153.7,1818.5 1157.0,1823.9 1160.4,1829.3C1163.8,1834.7 1167.5,1839.7 1170.5,1845.5C1173.7,1851.7 1175.2,1860.0 1178.6,1865.7C1181.5,1870.5 1185.7,1873.6 1188.7,1877.8C1191.5,1881.8 1193.3,1886.0 1196.1,1890.0C1199.1,1894.2 1202.9,1896.8 1206.2,1902.1C1211.1,1910.0 1215.8,1924.0 1220.3,1934.4C1224.5,1944.1 1229.2,1954.0 1232.4,1962.7C1235.0,1969.9 1235.6,1977.7 1238.5,1982.9C1240.7,1986.8 1244.0,1988.2 1246.6,1992.0C1250.1,1997.1 1253.1,2004.0 1256.7,2011.2C1261.1,2020.1 1266.2,2030.1 1270.8,2041.5C1276.4,2055.4 1281.5,2075.5 1287.0,2089.0C1291.3,2099.4 1295.7,2106.9 1300.0,2115.9C1332.9,2187.3 1369.4,2267.6 1398.6,2330.0C1421.4,2378.8 1442.8,2422.9 1460.3,2460.0C1473.3,2487.7 1482.9,2508.5 1494.2,2532.7L1507.0,2534.3L1472.4,2534.5" fill="none" stroke="#2a00f2" stroke-width="5" stroke-linejoin="round" stroke-linecap="round"/>
<text x="293.5" y="1599" style="font-size:45px">Granite</text>
<path d="M1406.5,1592.8H1501.4" stroke="#ff1c1c" stroke-width="5"/>
<path d="M1406.5,1641.4H1501.4" stroke="#2a00f2" stroke-width="5"/>
<text transform="translate(1510.4,1607.3) scale(0.95,1)" style="font-size:42px">Dry</text>
<text transform="translate(1510.4,1655.5) scale(0.95,1)" style="font-size:42px">Sat.</text>
<text transform="translate(74,2044.4) rotate(-90)" text-anchor="middle" style="font-size:65px">Stress (MPa)</text>
<text x="803" y="2715.8" style="font-size:65px">Strain (10<tspan style="font-size:37px;stroke:none" dy="-34">3</tspan><tspan dy="34">)</tspan></text>
<text class="cap" x="838" y="2881" text-anchor="middle" style="font-size:76px">(<tspan font-weight="bold">b</tspan>)</text>
<rect x="17" y="2983" width="1643" height="1217" fill="url(#sp)"/>
<rect x="269.3" y="3001.5" width="1365.5" height="1003.0999999999999" fill="none" stroke="#1e1e1e" stroke-width="4"/>
<text transform="translate(269.3,4077.5) scale(0.93,1)" text-anchor="middle" style="font-size:52px">0</text>
<text transform="translate(610.7,4077.5) scale(0.93,1)" text-anchor="middle" style="font-size:52px">3</text>
<text transform="translate(952.0,4077.5) scale(0.93,1)" text-anchor="middle" style="font-size:52px">6</text>
<text transform="translate(1293.4,4077.5) scale(0.93,1)" text-anchor="middle" style="font-size:52px">9</text>
<text transform="translate(1634.8,4077.5) scale(0.93,1)" text-anchor="middle" style="font-size:52px">12</text>
<text transform="translate(235.3,4021.1) scale(0.93,1)" text-anchor="end" style="font-size:52px">0</text>
<text transform="translate(235.3,3877.8) scale(0.93,1)" text-anchor="end" style="font-size:52px">20</text>
<text transform="translate(235.3,3734.5) scale(0.93,1)" text-anchor="end" style="font-size:52px">40</text>
<text transform="translate(235.3,3591.2) scale(0.93,1)" text-anchor="end" style="font-size:52px">60</text>
<text transform="translate(235.3,3447.9) scale(0.93,1)" text-anchor="end" style="font-size:52px">80</text>
<text transform="translate(235.3,3304.6) scale(0.93,1)" text-anchor="end" style="font-size:52px">100</text>
<text transform="translate(235.3,3161.3) scale(0.93,1)" text-anchor="end" style="font-size:52px">120</text>
<text transform="translate(235.3,3018.0) scale(0.93,1)" text-anchor="end" style="font-size:52px">140</text>
<path d="M269.3,4004.6v23M440.0,4004.6v13M610.7,4004.6v23M781.4,4004.6v13M952.0,4004.6v23M1122.7,4004.6v13M1293.4,4004.6v23M1464.1,4004.6v13M1634.8,4004.6v23M269.3,4004.6h-23M269.3,3932.9h-13M269.3,3861.3h-23M269.3,3789.7h-13M269.3,3718.0h-23M269.3,3646.3h-13M269.3,3574.7h-23M269.3,3503.1h-13M269.3,3431.4h-23M269.3,3359.8h-13M269.3,3288.1h-23M269.3,3216.4h-13M269.3,3144.8h-23M269.3,3073.2h-13M269.3,3001.5h-23" stroke="#1e1e1e" stroke-width="4" fill="none"/>
<path d="M270.0,4002.5C272.7,4002.3 275.3,4002.2 278.0,4002.0C280.7,4001.7 283.3,4001.4 286.0,4001.1C288.7,4000.7 291.3,4000.3 294.0,3999.9C296.7,3999.4 299.3,3998.9 302.0,3998.3C304.7,3997.7 307.3,3997.1 310.0,3996.4C312.7,3995.7 315.3,3994.9 318.0,3994.1C320.7,3993.3 323.3,3992.5 326.0,3991.6C328.7,3990.6 331.3,3989.7 334.0,3988.7C336.7,3987.7 339.3,3986.6 342.0,3985.5C344.7,3984.4 347.3,3983.2 350.0,3982.0C352.7,3980.8 355.3,3979.5 358.0,3978.2C360.7,3976.9 363.3,3975.5 366.0,3974.1C368.7,3972.7 371.3,3971.3 374.0,3969.8C376.7,3968.3 379.3,3966.8 382.0,3965.2C384.7,3963.6 387.3,3962.0 390.0,3960.3C392.7,3958.6 395.3,3956.9 398.0,3955.2C400.7,3953.4 403.3,3951.6 406.0,3949.8C408.7,3947.9 411.3,3946.0 414.0,3944.1C416.7,3942.2 419.3,3940.3 422.0,3938.3C424.7,3936.3 427.3,3934.2 430.0,3932.2C432.7,3930.1 435.3,3928.0 438.0,3925.9C440.7,3923.7 443.3,3921.5 446.0,3919.3C448.7,3917.1 451.3,3914.9 454.0,3912.6C456.7,3910.3 459.3,3908.0 462.0,3905.7C464.7,3903.3 467.3,3900.9 470.0,3898.6C472.7,3896.1 475.3,3893.7 478.0,3891.2C480.7,3888.8 483.3,3886.3 486.0,3883.8C488.7,3881.2 491.3,3878.7 494.0,3876.1C496.7,3873.5 499.3,3870.9 502.0,3868.3C504.7,3865.7 507.3,3863.0 510.0,3860.3C512.7,3857.7 515.3,3855.0 518.0,3852.2C520.7,3849.5 523.3,3846.7 526.0,3844.0C528.7,3841.2 531.3,3838.4 534.0,3835.6C536.7,3832.8 539.3,3829.9 542.0,3827.1C544.7,3824.2 547.3,3821.4 550.0,3818.5C552.7,3815.6 555.3,3812.7 558.0,3809.7C560.7,3806.8 563.3,3803.8 566.0,3800.9C568.7,3797.9 571.3,3794.9 574.0,3792.0C576.7,3789.0 579.3,3785.9 582.0,3782.9C584.7,3779.9 587.3,3776.9 590.0,3773.8C592.7,3770.8 595.3,3767.7 598.0,3764.6C600.7,3761.6 603.3,3758.5 606.0,3755.4C608.7,3752.3 611.3,3749.2 614.0,3746.1C616.7,3743.0 619.3,3739.8 622.0,3736.7C624.7,3733.6 627.3,3730.4 630.0,3727.3C632.7,3724.1 635.3,3720.9 638.0,3717.8C640.7,3714.6 643.3,3711.4 646.0,3708.2C648.7,3705.0 651.3,3701.7 654.0,3698.5C656.7,3695.3 659.3,3692.0 662.0,3688.8C664.7,3685.5 667.3,3682.3 670.0,3679.0C672.7,3675.7 675.3,3672.4 678.0,3669.1C680.7,3665.8 683.3,3662.5 686.0,3659.2C688.7,3655.9 691.3,3652.5 694.0,3649.2C696.7,3645.8 699.3,3642.5 702.0,3639.1C704.7,3635.7 707.3,3632.3 710.0,3628.9C712.7,3625.5 715.3,3622.1 718.0,3618.7C720.7,3615.2 723.3,3611.8 726.0,3608.3C728.7,3604.9 731.3,3601.4 734.0,3597.9C736.7,3594.4 739.3,3590.9 742.0,3587.4C744.7,3583.9 747.3,3580.4 750.0,3576.9C752.7,3573.3 755.3,3569.8 758.0,3566.2C760.7,3562.6 763.3,3559.1 766.0,3555.5C768.7,3551.9 771.3,3548.3 774.0,3544.6C776.7,3541.0 779.3,3537.4 782.0,3533.7C784.7,3530.1 787.3,3526.4 790.0,3522.7C792.7,3519.1 795.3,3515.4 798.0,3511.7C800.7,3507.9 803.3,3504.2 806.0,3500.5C808.7,3496.7 811.3,3493.0 814.0,3489.2C816.7,3485.5 819.3,3481.7 822.0,3477.9C824.7,3474.1 827.3,3470.3 830.0,3466.6C832.7,3462.8 835.3,3459.0 838.0,3455.2C840.7,3451.4 843.3,3447.5 846.0,3443.7C848.7,3439.9 851.3,3436.1 854.0,3432.3C856.7,3428.5 859.3,3424.7 862.0,3420.9C864.7,3417.1 867.3,3413.3 870.0,3409.6C872.7,3405.8 875.3,3402.0 878.0,3398.2C880.7,3394.5 883.3,3390.7 886.0,3387.0C888.7,3383.2 891.3,3379.5 894.0,3375.8C896.7,3372.1 899.3,3368.4 902.0,3364.7C904.7,3361.0 907.3,3357.3 910.0,3353.7C912.7,3350.0 915.3,3346.4 918.0,3342.8C920.7,3339.2 923.3,3335.6 926.0,3332.1C928.7,3328.5 931.3,3325.0 934.0,3321.5C936.7,3318.0 939.3,3314.5 942.0,3311.1C944.7,3307.6 947.3,3304.2 950.0,3300.8C952.7,3297.5 955.3,3294.1 958.0,3290.8C960.7,3287.5 963.3,3284.2 966.0,3281.0C968.7,3277.8 971.3,3274.6 974.0,3271.4C976.7,3268.3 979.3,3265.1 982.0,3262.1C984.7,3259.0 987.3,3256.0 990.0,3253.0C992.7,3250.0 995.3,3247.1 998.0,3244.2C1000.7,3241.3 1003.3,3238.5 1006.0,3235.7C1008.7,3232.9 1011.3,3230.2 1014.0,3227.6C1016.6,3225.0 1019.3,3222.4 1022.0,3219.9C1024.6,3217.4 1027.3,3215.0 1030.0,3212.7C1032.6,3210.4 1035.3,3208.1 1038.0,3205.9C1040.6,3203.8 1043.7,3201.5 1046.0,3199.8C1047.6,3198.6 1048.3,3198.2 1050.2,3196.8C1054.4,3193.7 1063.2,3184.1 1070.4,3181.3C1076.8,3178.8 1085.0,3179.3 1090.6,3179.3C1094.5,3179.3 1097.3,3180.0 1100.7,3180.3C1102.7,3185.0 1104.7,3189.3 1106.8,3194.4C1109.3,3200.5 1112.3,3207.4 1114.8,3214.6C1117.7,3222.7 1120.1,3232.5 1122.9,3240.9C1125.5,3248.6 1128.4,3255.5 1131.0,3263.1C1133.8,3271.0 1136.4,3279.3 1139.1,3287.4C1141.8,3295.5 1144.6,3303.2 1147.2,3311.6C1150.0,3320.7 1152.0,3330.8 1155.2,3340.0C1158.4,3349.0 1162.6,3357.9 1166.3,3366.3C1169.7,3374.0 1173.7,3381.0 1176.4,3388.5C1179.0,3395.8 1180.3,3402.7 1182.4,3410.7C1184.9,3420.0 1187.7,3430.2 1190.5,3441.0C1193.7,3453.5 1197.1,3466.7 1200.6,3481.4C1204.8,3498.9 1209.3,3519.8 1213.7,3539.0L1328.8,4003.5" fill="none" stroke="#ff1c1c" stroke-width="5" stroke-linejoin="round" stroke-linecap="round"/>
<path d="M269.7,4001.2C272.4,4000.6 275.0,4000.0 277.7,3999.4C280.4,3998.8 283.0,3998.2 285.7,3997.6C288.4,3996.9 291.0,3996.3 293.7,3995.7C296.4,3995.0 299.0,3994.4 301.7,3993.7C304.4,3993.0 307.0,3992.4 309.7,3991.7C312.4,3991.0 315.0,3990.3 317.7,3989.5C320.4,3988.8 323.0,3988.0 325.7,3987.3C328.4,3986.5 331.0,3985.7 333.7,3984.9C336.4,3984.1 339.0,3983.2 341.7,3982.4C344.4,3981.5 347.0,3980.6 349.7,3979.7C352.4,3978.7 355.0,3977.8 357.7,3976.8C360.4,3975.8 363.0,3974.8 365.7,3973.8C368.4,3972.7 371.0,3971.6 373.7,3970.5C376.4,3969.4 379.0,3968.2 381.7,3967.0C384.4,3965.8 387.0,3964.6 389.7,3963.3C392.4,3962.0 395.0,3960.7 397.7,3959.3C400.4,3957.9 403.0,3956.5 405.7,3955.1C408.4,3953.6 411.0,3952.1 413.7,3950.5C416.4,3949.0 419.0,3947.4 421.7,3945.7C424.4,3944.0 427.0,3942.3 429.7,3940.6C432.4,3938.8 435.0,3937.0 437.7,3935.1C440.4,3933.3 443.0,3931.4 445.7,3929.4C448.4,3927.5 451.0,3925.5 453.7,3923.5C456.4,3921.4 459.0,3919.4 461.7,3917.3C464.4,3915.1 467.0,3913.0 469.7,3910.8C472.4,3908.6 475.0,3906.4 477.7,3904.2C480.4,3901.9 483.0,3899.6 485.7,3897.3C488.4,3895.0 491.0,3892.7 493.7,3890.3C496.4,3887.9 499.0,3885.5 501.7,3883.1C504.4,3880.7 507.0,3878.2 509.7,3875.8C512.4,3873.3 515.0,3870.8 517.7,3868.3C520.4,3865.8 523.0,3863.2 525.7,3860.7C528.4,3858.1 531.0,3855.6 533.7,3853.0C536.4,3850.4 539.0,3847.8 541.7,3845.2C544.4,3842.6 547.0,3839.9 549.7,3837.3C552.4,3834.6 555.0,3831.9 557.7,3829.3C560.4,3826.6 563.0,3823.8 565.7,3821.1C568.4,3818.4 571.0,3815.6 573.7,3812.9C576.4,3810.1 579.0,3807.3 581.7,3804.5C584.4,3801.7 587.0,3798.9 589.7,3796.0C592.4,3793.2 595.0,3790.3 597.7,3787.4C600.4,3784.6 603.0,3781.7 605.7,3778.7C608.4,3775.8 611.0,3772.9 613.7,3769.9C616.4,3767.0 619.0,3764.0 621.7,3761.0C624.4,3758.0 627.0,3755.0 629.7,3752.0C632.4,3748.9 635.0,3745.9 637.7,3742.8C640.4,3739.7 643.0,3736.7 645.7,3733.5C648.4,3730.4 651.0,3727.3 653.7,3724.2C656.4,3721.0 659.0,3717.8 661.7,3714.7C664.4,3711.5 667.0,3708.3 669.7,3705.1C672.4,3701.8 675.0,3698.6 677.7,3695.3C680.4,3692.1 683.0,3688.8 685.7,3685.5C688.4,3682.2 691.0,3678.9 693.7,3675.5C696.4,3672.2 699.0,3668.9 701.7,3665.5C704.4,3662.1 707.0,3658.8 709.7,3655.4C712.4,3652.0 715.0,3648.6 717.7,3645.1C720.4,3641.7 723.0,3638.3 725.7,3634.8C728.4,3631.4 731.0,3627.9 733.7,3624.4C736.4,3620.9 739.0,3617.4 741.7,3613.9C744.4,3610.4 747.0,3606.9 749.7,3603.3C752.4,3599.8 755.0,3596.2 757.7,3592.7C760.4,3589.1 763.0,3585.5 765.7,3582.0C768.4,3578.4 771.0,3574.8 773.7,3571.2C776.4,3567.6 779.0,3563.9 781.7,3560.3C784.4,3556.7 787.0,3553.1 789.7,3549.4C792.4,3545.8 795.0,3542.1 797.7,3538.4C800.4,3534.8 803.0,3531.1 805.7,3527.4C808.4,3523.7 811.0,3520.0 813.7,3516.3C816.4,3512.6 819.0,3508.9 821.7,3505.2C824.4,3501.5 827.0,3497.8 829.7,3494.0C832.4,3490.3 835.0,3486.6 837.7,3482.8C840.4,3479.1 843.0,3475.3 845.7,3471.6C848.4,3467.8 851.0,3464.1 853.7,3460.3C856.4,3456.5 859.0,3452.8 861.7,3449.0C864.4,3445.2 867.0,3441.4 869.7,3437.7C872.4,3433.9 875.0,3430.1 877.7,3426.3C880.4,3422.5 883.0,3418.7 885.7,3414.9C888.4,3411.1 891.0,3407.3 893.7,3403.5C896.4,3399.8 899.0,3396.0 901.7,3392.2C904.4,3388.4 907.0,3384.6 909.7,3380.8C912.4,3377.0 915.0,3373.2 917.7,3369.4C920.4,3365.6 923.0,3361.9 925.7,3358.1C928.4,3354.3 931.0,3350.6 933.7,3346.9C936.4,3343.2 939.0,3339.4 941.7,3335.8C944.4,3332.1 947.0,3328.4 949.7,3324.8C952.4,3321.1 955.0,3317.5 957.7,3313.9C960.4,3310.3 963.0,3306.8 965.7,3303.2C968.4,3299.7 971.0,3296.2 973.7,3292.8C976.4,3289.3 979.0,3285.9 981.7,3282.5C984.4,3279.2 987.0,3275.8 989.7,3272.6C992.4,3269.3 995.0,3266.0 997.7,3262.8C1000.4,3259.7 1003.0,3256.5 1005.7,3253.4C1008.4,3250.3 1011.0,3247.3 1013.7,3244.3C1016.4,3241.3 1019.0,3238.4 1021.7,3235.6C1024.4,3232.7 1027.0,3229.9 1029.7,3227.2C1032.4,3224.5 1035.0,3221.8 1037.7,3219.2C1040.3,3216.6 1043.0,3214.1 1045.7,3211.6C1048.3,3209.2 1051.0,3206.9 1053.7,3204.6C1056.3,3202.4 1059.0,3200.2 1061.7,3198.1C1064.3,3196.1 1068.5,3193.1 1069.7,3192.2C1070.1,3192.0 1070.0,3192.0 1070.4,3191.7C1072.1,3190.4 1079.7,3182.9 1084.5,3180.3C1088.5,3178.1 1092.8,3176.4 1096.7,3176.3C1100.2,3176.3 1103.7,3177.3 1106.8,3179.3C1110.5,3181.6 1113.2,3186.5 1116.9,3190.4C1121.2,3194.9 1126.8,3200.9 1131.0,3204.5C1134.0,3207.1 1136.6,3208.0 1139.1,3210.6C1142.1,3213.8 1144.7,3218.1 1147.2,3222.7C1150.1,3228.0 1152.8,3234.1 1155.3,3240.9C1158.3,3249.2 1159.9,3261.9 1163.3,3269.2C1165.7,3274.3 1168.4,3276.9 1171.4,3281.3C1175.0,3286.7 1180.0,3293.8 1183.5,3299.5C1186.6,3304.4 1189.3,3308.0 1191.6,3313.6C1194.6,3320.9 1195.1,3331.1 1198.6,3340.0C1202.5,3350.0 1210.2,3360.4 1214.7,3370.3C1218.8,3379.2 1221.2,3387.5 1224.8,3396.6C1228.6,3406.4 1232.9,3416.8 1237.0,3426.9C1241.0,3437.0 1245.1,3447.1 1249.1,3457.2C1253.1,3467.3 1257.0,3476.0 1261.2,3487.5C1266.6,3502.3 1272.7,3521.8 1278.4,3539.0L1454.0,4003.5" fill="none" stroke="#2a00f2" stroke-width="5" stroke-linejoin="round" stroke-linecap="round"/>
<text x="295" y="3065.4" style="font-size:45px">Marble</text>
<path d="M1406.5,3059.2H1501.4" stroke="#ff1c1c" stroke-width="5"/>
<path d="M1406.5,3108.5H1501.4" stroke="#2a00f2" stroke-width="5"/>
<text transform="translate(1510.4,3073.6) scale(0.95,1)" style="font-size:42px">Dry</text>
<text transform="translate(1510.4,3122.5) scale(0.95,1)" style="font-size:42px">Sat.</text>
<text transform="translate(74,3511.6) rotate(-90)" text-anchor="middle" style="font-size:65px">Stress (MPa)</text>
<text x="803" y="4183" style="font-size:65px">Strain (10<tspan style="font-size:37px;stroke:none" dy="-34">3</tspan><tspan dy="34">)</tspan></text>
<text class="cap" x="838" y="4349" text-anchor="middle" style="font-size:76px">(<tspan font-weight="bold">c</tspan>)</text>
</svg>
</body></html>
